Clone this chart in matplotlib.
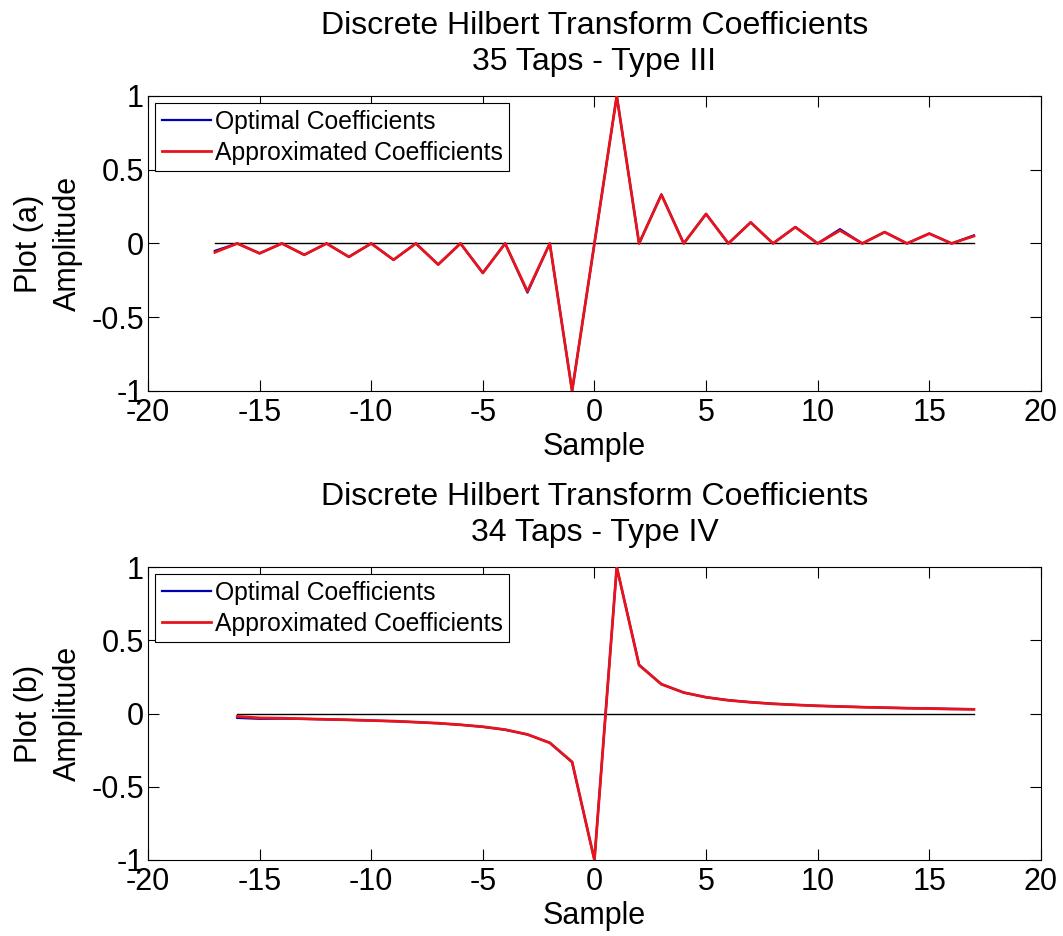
import matplotlib
matplotlib.use("Agg")
import matplotlib.pyplot as plt

plt.rcParams['font.family'] = ['Liberation Sans', 'DejaVu Sans']
plt.rcParams['axes.unicode_minus'] = False

# ---- Data: Plot (a) 35 taps, Type III ----
samples_a = list(range(-17, 18))
optimal_a = [-0.050, 0, -0.067, 0, -0.077, 0, -0.091, 0, -0.111, 0, -0.143, 0, -0.200, 0, -0.333, 0, -1.0,
             0, 1.0, 0, 0.333, 0, 0.200, 0, 0.143, 0, 0.111, 0, 0.097, 0, 0.077, 0, 0.067, 0, 0.055]
approx_a = [-0.060, 0, -0.067, 0, -0.077, 0, -0.091, 0, -0.111, 0, -0.143, 0, -0.200, 0, -0.325, 0, -1.0,
            0, 1.0, 0, 0.330, 0, 0.200, 0, 0.143, 0, 0.111, 0, 0.088, 0, 0.077, 0, 0.067, 0, 0.050]

# ---- Data: Plot (b) 34 taps, Type IV ----
samples_b = list(range(-16, 18))
optimal_b = [-0.030, -0.036, -0.035, -0.037, -0.040, -0.044, -0.048, -0.053, -0.059, -0.067, -0.077,
             -0.091, -0.111, -0.143, -0.200, -0.333, -1.0, 1.0, 0.333, 0.200, 0.143, 0.111, 0.091,
             0.077, 0.067, 0.059, 0.053, 0.048, 0.044, 0.040, 0.037, 0.035, 0.032, 0.030]
approx_b = [-0.020, -0.030, -0.032, -0.036, -0.040, -0.043, -0.048, -0.052, -0.059, -0.066, -0.077,
            -0.090, -0.110, -0.143, -0.200, -0.330, -1.0, 1.0, 0.330, 0.200, 0.143, 0.111, 0.090,
            0.077, 0.066, 0.059, 0.052, 0.048, 0.043, 0.040, 0.036, 0.034, 0.030, 0.028]

panels = [
    (samples_a, optimal_a, approx_a, "Discrete Hilbert Transform Coefficients\n35 Taps - Type III", "Plot (a)\nAmplitude"),
    (samples_b, optimal_b, approx_b, "Discrete Hilbert Transform Coefficients\n34 Taps - Type IV", "Plot (b)\nAmplitude"),
]

fig = plt.figure(figsize=(10.63, 9.36), dpi=100)
positions = [[0.1392, 0.5823, 0.840, 0.3152], [0.1392, 0.0812, 0.840, 0.3130]]

for pos, (x, opt, appr, title, ylab) in zip(positions, panels):
    ax = fig.add_axes(pos)
    ax.plot([x[0], x[-1]], [0, 0], color='black', lw=1.0, zorder=1)
    ax.plot(x, opt, color='#0000b0', lw=1.6, label='Optimal Coefficients', zorder=2)
    ax.plot(x, appr, color='#e8141c', lw=2.0, label='Approximated Coefficients', zorder=3)
    ax.set_xlim(-20, 20)
    ax.set_ylim(-1, 1)
    ax.set_xticks([-20, -15, -10, -5, 0, 5, 10, 15, 20])
    ax.set_yticks([-1, -0.5, 0, 0.5, 1])
    ax.set_yticklabels(['-1', '-0.5', '0', '0.5', '1'])
    ax.tick_params(direction='in', top=True, right=True, labelsize=22, length=8, width=0.8)
    ax.tick_params(axis='x', pad=5)
    ax.tick_params(axis='y', pad=3)
    for s in ax.spines.values():
        s.set_linewidth(0.8)
    ax.set_title(title, fontsize=23, linespacing=1.25, pad=19)
    ax.set_xlabel('Sample', fontsize=22, labelpad=3)
    ax.set_ylabel(ylab, fontsize=22, linespacing=1.4, labelpad=6)
    leg = ax.legend(loc='upper left', fontsize=17.8, handlelength=2.0, handletextpad=0.15,
                    borderpad=0.25, labelspacing=0.3, fancybox=False, framealpha=1,
                    borderaxespad=0.3)
    leg.get_frame().set_edgecolor('black')
    leg.get_frame().set_linewidth(0.8)

fig.savefig('out.png', dpi=100)
